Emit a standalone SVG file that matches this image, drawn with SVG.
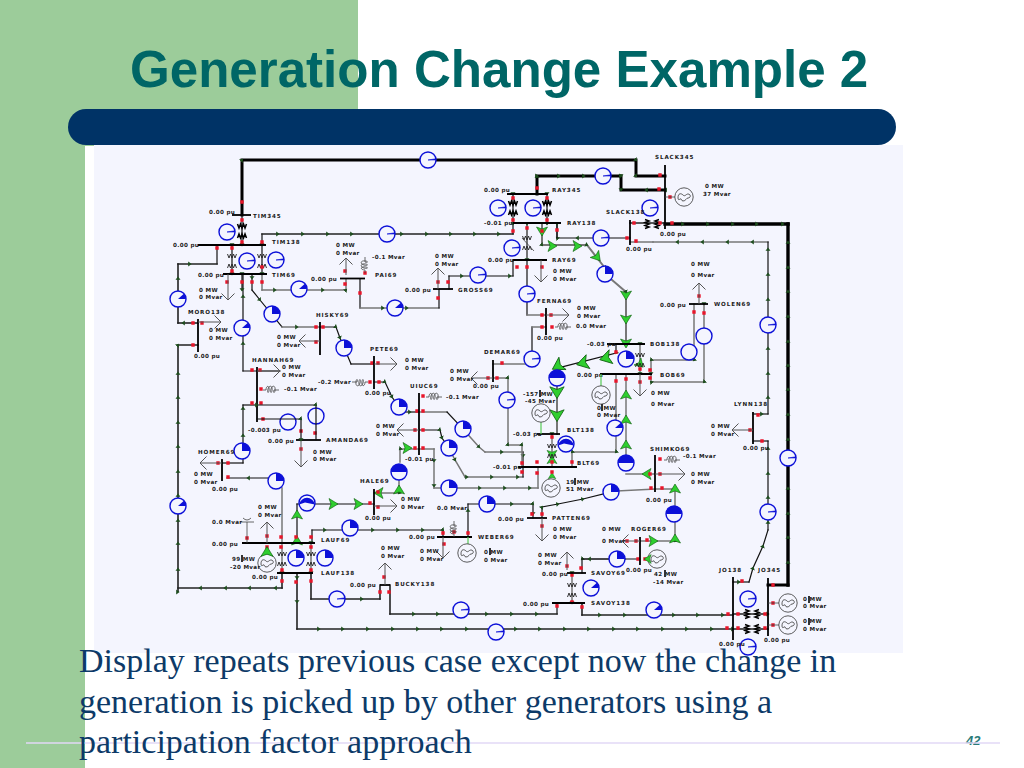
<svg xmlns="http://www.w3.org/2000/svg" xmlns:xlink="http://www.w3.org/1999/xlink" width="1024" height="768" viewBox="0 0 1024 768">
<style>
.t{font:bold 5.6px "DejaVu Sans",sans-serif;fill:#1a1a1a;letter-spacing:.35px}
.n{font:bold 5.6px "DejaVu Sans",sans-serif;fill:#1a1a1a;letter-spacing:.9px}
.k{fill:none;stroke:#111;stroke-width:1.2;stroke-linecap:square;marker-mid:url(#m)}
.g{fill:none;stroke:#777;stroke-width:1.5;stroke-linecap:square;marker-mid:url(#m)}
.b{fill:none;stroke:#000;stroke-width:3;stroke-linecap:square;marker-mid:url(#m)}
.h{fill:none;stroke:#222;stroke-width:1.6;stroke-linecap:square;marker-mid:url(#m)}
.bar{fill:none;stroke:#000;stroke-width:1.8}
.ld{fill:none;stroke:#555;stroke-width:1;marker-end:url(#o)}
.s{fill:none;stroke:#444;stroke-width:.8}
.red{fill:none;stroke:#e8152a;stroke-width:3.4;stroke-linecap:square}
.gl{fill:none;stroke:#5c5;stroke-width:1.2}
.mk{fill:#333}
</style>
<defs>
<marker id="m" markerUnits="userSpaceOnUse" markerWidth="7" markerHeight="7" refX="2" refY="3.5" orient="auto"><path d="M0.2 1L3.6 3.5L0.2 6Z" fill="#1d4d1d"/></marker>
<marker id="o" markerUnits="userSpaceOnUse" markerWidth="12" markerHeight="14" refX="10" refY="7" orient="auto"><path d="M3.5 0.5L10 7L3.5 13.5" fill="none" stroke="#555"/></marker>
<g id="c"><circle r="8" fill="#f4f5fe" stroke="#0c10d8" stroke-width="1.4"/></g>
<g id="g0"><use xlink:href="#c"/></g>
<g id="g1"><use xlink:href="#c"/><path d="M0 0L7.8 0L7.7 -1.2Z" fill="#0c10d8" stroke="#0c10d8" stroke-width=".6"/></g>
<g id="g2"><use xlink:href="#c"/><path d="M0 0L7.9 0A7.9 7.9 0 0 0 5.9 -5.2Z" fill="#0c10d8"/></g>
<g id="g3"><use xlink:href="#c"/><path d="M0 0L7.9 0A7.9 7.9 0 0 0 0 -7.9Z" fill="#0c10d8"/></g>
<g id="g4"><use xlink:href="#c"/><path d="M7.9 0A7.9 7.9 0 0 0 -7.9 0Z" fill="#0c10d8"/></g>
<g id="g5"><use xlink:href="#c"/><path d="M7.8 1.5A7.9 7.9 0 0 0 -7.8 1.5L-2 -.5Z" fill="#0c10d8"/></g>
<path id="x" d="M-4.5 -7L-3 -3L-1.5 -7L0 -3L1.5 -7L3 -3L4.5 -7M-4.5 7L-3 3L-1.5 7L0 3L1.5 7L3 3L4.5 7" fill="none" stroke="#222" stroke-width=".9"/>
<path id="xb" d="M-4.5 -7L-3 -3L-1.5 -7L0 -3L1.5 -7L3 -3L4.5 -7M-4.5 7L-3 3L-1.5 7L0 3L1.5 7L3 3L4.5 7" fill="none" stroke="#000" stroke-width="1.5"/>
<path id="coil" d="M0 0H3C3 -5 7 -5 6 1C5 4 4 2 5 -1C6 -5 10 -5 9 1C8 4 7 2 8 -1C9 -5 13 -5 12 1C11 4 10 2 11 0H16" fill="none" stroke="#444" stroke-width=".8"/>
<g id="gen"><circle r="9.2" fill="#f4f5fe" stroke="#333" stroke-width=".8"/><path d="M-6 1C-6 -4 -3 -4 -1 -2C1 0 2 -3 4 -3C7 -3 7 1 4 1C2 1 2 4 -1 4C-3 4 -2 1 -4 2C-5 3 -6 3 -6 1Z" fill="none" stroke="#333" stroke-width=".8"/></g>
<path id="ga" d="M-4 -5.5L5 0L-4 5.500L-2 0Z" fill="#2fce2f" stroke="#0a5a0a" stroke-width=".6"/>
</defs>

<g id="slide">
<rect x="0" y="0" width="358" height="146" fill="#9ccc9a"/>
<rect x="0" y="146" width="85" height="622" fill="#9ccc9a"/>
<path d="M85 160Q85 146 95 146H903V653H85Z" fill="#fff"/>
<rect x="94" y="145" width="809" height="508" fill="#f4f5fe"/>
<rect x="68" y="109" width="828" height="36" rx="18" fill="#003366"/>
<text x="130" y="87" style="font:bold 51.1px 'Liberation Sans',sans-serif;fill:#006666">Generation Change Example 2</text>
<text x="966" y="745" style="font:italic bold 13px 'Liberation Sans',sans-serif;fill:#2a7a78">42</text>
<path d="M26 743H1000" stroke="#e2d8f6" stroke-width="1.6"/>
<g style="font:34px 'Liberation Serif',serif;fill:#0d3a68">
<text x="79" y="672">Display repeats previous case except now the change in</text>
<text x="79" y="713">generation is picked up by other generators using a</text>
<text x="79" y="753">participation factor approach</text>
</g>
</g>

<g id="connectors">
<path class="b" d="M242 215V160H636V176H665"/>
<path class="b" d="M537 194V176M537 176H559H584H621M621 176V190M665 190H646H621"/>
<path class="b" style="stroke-width:3.4" d="M665 224H683H708H733H757H783H788"/>
<path class="b" style="stroke-width:3.4" d="M788 585V562V537V513V488V439V414V389V365V341V316V291V267V242V224"/>
<path class="b" d="M768 585H788"/>
<path class="g" d="M630 242H653"/><path class="g" d="M768 242H752H727H702H677H653"/>
<path class="k" d="M768 414V397V373V348V299V274V249V242"/>
<path class="k" d="M753 414H762H768"/>
<path class="k" d="M753 441H768"/><path class="k" d="M768 530V522V497V473V448V441"/>
<path class="k" d="M749 582L753 568L763 546L768 530"/><path class="k" d="M733 582H739H749"/>
<path class="k" d="M262 245V234"/>
<path class="h" d="M262 234H278H303H328H352H402H427H451H475H499H513"/><path class="k" d="M513 234V224"/>
<path class="g" d="M262 274V290"/><path class="g" d="M262 290H275H323H346V279"/>
<path class="k" d="M360 279V308"/><path class="g" d="M360 308H383H407H439"/><path class="k" d="M439 308V289"/>
<path class="k" d="M449 289V276"/><path class="k" d="M449 276H462H510H513"/><path class="k" d="M513 276V260"/>
<path class="k" d="M217 245V264"/><path class="h" d="M178 264H190H217"/>
<path class="h" d="M178 323V278V264"/><path class="h" d="M198 323H183H178"/>
<path class="h" d="M178 588V592V569V543V520V495V471V446V422V397V373V345H198"/>
<path class="h" d="M282 573V588"/><path class="h" d="M282 588H275H249H225H200H178"/>
<path class="k" d="M243 371V343V296V274"/><path class="k" d="M243 371H280"/>
<path class="k" d="M243 463V435V408V405"/><path class="k" d="M243 405H257"/><path class="k" d="M222 463H243"/>
<path class="k" d="M252 274V278V290"/><path class="k" d="M252 290L260 300L282 327"/>
<path class="g" d="M282 327H297H320"/><path class="k" d="M320 327H336L340 338L351 364"/>
<path class="k" d="M351 364H374"/>
<path class="k" d="M374 382H385L392 397L399 407"/>
<path class="k" d="M399 412H410H419"/>
<path class="g" d="M419 412H447"/><path class="k" d="M447 412L463 429"/>
<path class="g" d="M463 429L479 447L485 452"/><path class="g" d="M485 452H502H523"/><path class="k" d="M523 452V456V467"/>
<path class="k" d="M419 430H440L442 438L449 448"/>
<path class="g" d="M449 448L455 460L465 477"/><path class="g" d="M465 477H467H492H518H523"/><path class="k" d="M523 477V467"/>
<path class="g" d="M419 449H434"/><path class="g" d="M434 449V461V486V488"/><path class="g" d="M434 488H441"/>
<path class="g" d="M457 488H480H505H530H538"/><path class="g" d="M538 488V467"/>
<path class="g" d="M419 449H400V462"/><path class="g" d="M399 480V493H374"/>
<path class="g" d="M282 543V488"/>
<path class="k" d="M282 481H276"/><path class="k" d="M268 478H248H227"/>
<path class="k" d="M297 543V515V504"/><path class="k" d="M297 504H333H358H374"/>
<path class="k" d="M312 543V530"/><path class="k" d="M312 530H325H373H398H423H443V537"/>
<path class="k" d="M468 537V510V504"/><path class="k" d="M468 504H512H533V514V518"/>
<path class="k" d="M542 518V507L558 504L583 499L611 492"/>
<path class="g" d="M617 491L655 489"/>
<path class="g" d="M655 489H675"/><path class="g" d="M675 489V541H640"/>
<path class="g" d="M626 474H655"/><path class="g" d="M626 463V374"/>
<path class="g" d="M616 374V452H572V467"/>
<path class="k" d="M640 559H582V573"/><path class="k" d="M625 559H589H582"/>
<path class="h" d="M582 603V615"/><path class="h" d="M582 615H600H625H674H698H723H733"/>
<path class="h" d="M297 573V578V602V629"/><path class="h" d="M297 629H319H343H368H393H418H442H467H516H540H565H589H614H638H663H687H712H733"/>
<path class="k" d="M557 603V614"/><path class="h" d="M390 614H414H438H487H512H537H557"/><path class="h" d="M390 585V614"/>
<path class="h" d="M380 585V599"/><path class="h" d="M311 573V599"/><path class="h" d="M311 599H362H380"/>
<path class="k" d="M630 238H577H557V224"/>
<path class="k" d="M527 224V260"/><path class="k" d="M527 260V315"/><path class="g" d="M527 315H546"/>
<path class="k" d="M532 327V360"/><path class="g" d="M532 327H546"/>
<path class="g" d="M493 364H532"/>
<path class="g" d="M493 378H508V445H522V467"/>
<path class="k" d="M242 215V245M232 245V274M262 245V274M242 274V290M513 194V224M547 194V224M557 224V238"/>
<path class="g" d="M282 543V573M311 543V573M572 573V603M527 224V260M640 344V374M552 434V467"/>
<path class="g" style="stroke-width:2" d="M542 224V245H587L605 268M605 274L626 292V344"/>
<path class="k" d="M616 344V353L558 368"/>
<path class="g" style="stroke-width:2" d="M557 378V434"/>
<path class="g" d="M694 304V360H651V374M704 304V382H651V374"/>
<path class="h" d="M630 223H665"/>
<path class="h" d="M733 614H768M733 629H768"/>
<use xlink:href="#ga" transform="translate(542 231) rotate(90)"/>
<use xlink:href="#ga" transform="translate(552 246)"/>
<use xlink:href="#ga" transform="translate(577 246)"/>
<use xlink:href="#ga" transform="translate(597 257) rotate(50)"/>
<use xlink:href="#ga" transform="translate(626 295) rotate(90)"/>
<use xlink:href="#ga" transform="translate(626 319) rotate(90)"/>
<use xlink:href="#ga" transform="translate(626 343) rotate(90)"/>
<use xlink:href="#ga" transform="translate(606 358) rotate(165) scale(1.3)"/>
<use xlink:href="#ga" transform="translate(583 363) rotate(165) scale(1.3)"/>
<use xlink:href="#ga" transform="translate(558 366) rotate(150) scale(1.3)"/>
<use xlink:href="#ga" transform="translate(557 392) rotate(90) scale(1.3)"/>
<use xlink:href="#ga" transform="translate(557 415) rotate(90) scale(1.3)"/>
<use xlink:href="#ga" transform="translate(626 445) rotate(-90)"/>
<use xlink:href="#ga" transform="translate(626 420) rotate(-90)"/>
<use xlink:href="#ga" transform="translate(626 395) rotate(-90)"/>
<use xlink:href="#ga" transform="translate(647 474) rotate(180)"/>
<use xlink:href="#ga" transform="translate(407 448)"/>
<use xlink:href="#ga" transform="translate(399 490) rotate(-90)"/>
<use xlink:href="#ga" transform="translate(379 493) rotate(180)"/>
<use xlink:href="#ga" transform="translate(333 504)"/>
<use xlink:href="#ga" transform="translate(358 504)"/>
<use xlink:href="#ga" transform="translate(297 515) rotate(-90)"/>
<use xlink:href="#ga" transform="translate(297 541) rotate(-90)"/>
<use xlink:href="#ga" transform="translate(653 541)"/>
<use xlink:href="#ga" transform="translate(675 539) rotate(-90)"/>
<use xlink:href="#ga" transform="translate(675 489) rotate(-90)"/>
<use xlink:href="#ga" transform="translate(552 460) rotate(-90) scale(.9)"/>
<use xlink:href="#ga" transform="translate(552 454) rotate(90) scale(.9)"/>
<use xlink:href="#ga" transform="translate(552 476) rotate(-90) scale(.7)"/>
<use xlink:href="#ga" transform="translate(640 364) rotate(45) scale(.9)"/>
<use xlink:href="#x" transform="translate(232 261)"/>
<use xlink:href="#x" transform="translate(262 261)"/>
<use xlink:href="#xb" transform="translate(242 231)"/>
<use xlink:href="#xb" transform="translate(513 208)"/>
<use xlink:href="#xb" transform="translate(547 208)"/>
<use xlink:href="#x" transform="translate(527 243)"/>
<path class="s" d="M522 238L534 251"/>
<use xlink:href="#x" transform="translate(282 559)"/>
<use xlink:href="#x" transform="translate(311 559)"/>
<use xlink:href="#x" transform="translate(572 590)"/>
<use xlink:href="#x" transform="translate(640 360)"/>
<use xlink:href="#x" transform="translate(552 451)"/>
<use xlink:href="#xb" transform="translate(652 224) rotate(90)"/>
<use xlink:href="#xb" transform="translate(752 614) rotate(90)"/>
<use xlink:href="#xb" transform="translate(752 629) rotate(90)"/>
<path class="red" d="M242 202h0M242 220h0M242 242h0M262 242h0M232 248h0M232 271h0M217 248h0M227 282h0M242 282h0M252 282h0M262 282h0M262 267h0M345 271h0M345 284h0M365 273h0M360 293h0M193 323h0M202 323h0M193 345h0M316 327h0M323 327h0M316 342h0M372 363h0M378 363h0M370 382h0M379 382h0M252 370h0M260 370h0M261 389h0M252 403h0M261 403h0M263 419h0M301 431h0M315 433h0M301 449h0M218 463h0M228 463h0M228 477h0M417 411h0M423 411h0M415 430h0M423 430h0M415 448h0M423 448h0M423 396h0M378 492h0M378 507h0M370 503h0M281 537h0M281 547h0M296 537h0M311 537h0M311 547h0M267 536h0M267 547h0M247 538h0M282 570h0M282 581h0M296 582h0M311 570h0M311 581h0M380 592h0M389 592h0M384 577h0M443 533h0M444 544h0M454 532h0M468 533h0M532 514h0M542 514h0M542 526h0M567 566h0M572 575h0M581 568h0M572 602h0M557 606h0M582 607h0M627 541h0M636 541h0M647 540h0M638 559h0M645 559h0M513 198h0M547 198h0M537 188h0M513 220h0M547 220h0M527 228h0M542 231h0M557 230h0M513 231h0M527 267h0M517 267h0M542 267h0M660 175h0M659 189h0M670 197h0M634 223h0M660 223h0M672 223h0M627 238h0M636 241h0M438 282h0M438 298h0M448 282h0M542 327h0M552 327h0M542 315h0M551 315h0M694 312h0M704 313h0M699 296h0M502 363h0M488 378h0M497 378h0M616 352h0M616 381h0M626 379h0M640 369h0M640 382h0M650 370h0M650 378h0M552 437h0M552 462h0M552 472h0M537 462h0M537 473h0M522 463h0M522 472h0M572 462h0M660 459h0M660 474h0M651 488h0M662 488h0M650 474h0M758 415h0M750 430h0M762 441h0M742 581h0M773 585h0M773 603h0M773 625h0M728 614h0M738 614h0M727 628h0M738 628h0M765 614h0M765 628h0"/>
</g>

<g id="gauges">
<use xlink:href="#g1" x="428" y="160"/><use xlink:href="#g1" x="227" y="232"/><use xlink:href="#g1" x="387" y="234"/>
<use xlink:href="#g1" x="247" y="261"/><use xlink:href="#g1" x="276" y="260"/><use xlink:href="#g2" x="299" y="289"/>
<use xlink:href="#g2" x="178" y="299"/><use xlink:href="#g2" x="242" y="328"/><use xlink:href="#g3" x="272" y="314"/>
<use xlink:href="#g3" x="344" y="348"/><use xlink:href="#g2" x="395" y="308"/><use xlink:href="#g1" x="478" y="275"/>
<use xlink:href="#g1" x="603" y="176"/><use xlink:href="#g1" x="498" y="208"/><use xlink:href="#g1" x="533" y="208"/>
<use xlink:href="#g1" x="650" y="208"/><use xlink:href="#g1" x="601" y="238"/><use xlink:href="#g1" x="512" y="248"/>
<use xlink:href="#g1" x="527" y="294"/><use xlink:href="#g3" x="605" y="274"/><use xlink:href="#g1" x="532" y="359"/>
<use xlink:href="#g3" x="626" y="359"/><use xlink:href="#g4" x="557" y="378"/><use xlink:href="#g0" x="704" y="336"/>
<use xlink:href="#g0" x="689" y="352"/><use xlink:href="#g1" x="768" y="325"/><use xlink:href="#g1" x="788" y="458"/>
<use xlink:href="#g1" x="768" y="512"/><use xlink:href="#g1" x="507" y="400"/><use xlink:href="#g2" x="615" y="428"/>
<use xlink:href="#g5" x="566" y="444"/><use xlink:href="#g4" x="626" y="463"/><use xlink:href="#g3" x="463" y="429"/>
<use xlink:href="#g3" x="449" y="448"/><use xlink:href="#g3" x="449" y="488"/><use xlink:href="#g3" x="399" y="407"/>
<use xlink:href="#g4" x="399" y="472"/><use xlink:href="#g0" x="316" y="416"/><use xlink:href="#g0" x="288" y="422"/>
<use xlink:href="#g3" x="242" y="451"/><use xlink:href="#g3" x="276" y="481"/><use xlink:href="#g2" x="178" y="506"/>
<use xlink:href="#g5" x="307" y="503"/><use xlink:href="#g3" x="350" y="528"/><use xlink:href="#g3" x="296" y="558"/>
<use xlink:href="#g3" x="325" y="558"/><use xlink:href="#g3" x="487" y="504"/><use xlink:href="#g3" x="611" y="492"/>
<use xlink:href="#g4" x="674" y="514"/><use xlink:href="#g3" x="617" y="559"/><use xlink:href="#g2" x="591" y="588"/>
<use xlink:href="#g1" x="337" y="599"/><use xlink:href="#g1" x="461" y="610"/><use xlink:href="#g2" x="654" y="610"/>
<use xlink:href="#g1" x="496" y="632"/><use xlink:href="#g1" x="748" y="599"/><use xlink:href="#g1" x="748" y="647"/>
</g>

<g id="n-SLACK345"><path class="bar" d="M665 165V229"/><path class="s" d="M665 197H675"/><use xlink:href="#gen" x="684" y="197"/><text class="n" x="655" y="159">SLACK345</text><text class="t" x="705" y="188">0 MW</text><text class="t" x="703" y="196">37 Mvar</text><text class="t" x="660" y="236">0.00 pu</text></g>
<g id="n-TIM345"><path class="bar" d="M232 215H251"/><text class="n" x="253" y="218">TIM345</text><text class="t" x="209" y="214">0.00 pu</text></g>
<g id="n-TIM138"><path class="bar" d="M198 245H266"/><text class="n" x="272" y="244">TIM138</text><text class="t" x="173" y="247">0.00 pu</text></g>
<g id="n-TIM69"><path class="bar" d="M223 274H267"/><text class="n" x="272" y="277">TIM69</text><text class="t" x="198" y="277">0.00 pu</text><path class="ld" d="M228 274V300"/><text class="t" x="199" y="292">0 MW</text><text class="t" x="199" y="299">0 Mvar</text></g>
<g id="n-MORO138"><path class="bar" d="M198 319V352"/><text class="n" x="188" y="314">MORO138</text><text class="t" x="194" y="358">0.00 pu</text><path class="ld" d="M198 322H221"/><text class="t" x="209" y="332">0 MW</text><text class="t" x="209" y="340">0 Mvar</text></g>
<g id="n-HISKY69"><path class="bar" d="M320 322V355"/><text class="n" x="316" y="317">HISKY69</text><path class="ld" d="M320 341H299"/><text class="t" x="277" y="339">0 MW</text><text class="t" x="277" y="347">0 Mvar</text></g>
<g id="n-PAI69"><path class="bar" d="M340 278.500H365"/><text class="n" x="375" y="277">PAI69</text><text class="t" x="311" y="281">0.00 pu</text><path class="ld" d="M346 275V258"/><text class="t" x="336" y="247">0 MW</text><text class="t" x="336" y="255">0 Mvar</text><use xlink:href="#coil" transform="translate(365 273) rotate(-90)"/><text class="t" x="372" y="259">-0.1 Mvar</text></g>
<g id="n-GROSS69"><path class="bar" d="M433 289H453"/><text class="n" x="458" y="292">GROSS69</text><text class="t" x="405" y="292">0.00 pu</text><path class="ld" d="M438 289V268"/><text class="t" x="435" y="258">0 MW</text><text class="t" x="435" y="266">0 Mvar</text></g>
<g id="n-RAY345"><path class="bar" d="M507 194H548"/><text class="n" x="552" y="192">RAY345</text><text class="t" x="484" y="192">0.00 pu</text></g>
<g id="n-RAY138"><path class="bar" d="M513 223H561"/><text class="n" x="567" y="225">RAY138</text><text class="t" x="484" y="225">-0.01 pu</text></g>
<g id="n-RAY69"><path class="bar" d="M513 260H547"/><text class="n" x="552" y="262">RAY69</text><text class="t" x="488" y="262">0.00 pu</text><path class="ld" d="M541 260V282"/><text class="t" x="553" y="273">0 MW</text><text class="t" x="553" y="281">0 Mvar</text></g>
<g id="n-SLACK138"><path class="bar" d="M630 220V245"/><text class="n" x="606" y="214">SLACK138</text><text class="t" x="626" y="251">0.00 pu</text></g>
<g id="n-FERNA69"><path class="bar" d="M546 308V335"/><text class="n" x="537" y="303">FERNA69</text><text class="t" x="537" y="340">0.00 pu</text><path class="ld" d="M546 315H569"/><text class="t" x="577" y="310">0 MW</text><text class="t" x="577" y="318">0 Mvar</text><use xlink:href="#coil" transform="translate(555 327)"/><text class="t" x="576" y="328">0.0 Mvar</text></g>
<g id="n-WOLEN69"><path class="bar" d="M689 304H708"/><text class="n" x="714" y="306">WOLEN69</text><text class="t" x="660" y="307">0.00 pu</text><path class="ld" d="M699 304V283"/><text class="t" x="691" y="266">0 MW</text><text class="t" x="691" y="277">0 Mvar</text></g>
<g id="n-PETE69"><path class="bar" d="M374 356V389"/><text class="n" x="370" y="351">PETE69</text><text class="t" x="365" y="395">0.00 pu</text><path class="ld" d="M374 364H397"/><text class="t" x="405" y="362">0 MW</text><text class="t" x="405" y="370">0 Mvar</text><use xlink:href="#coil" transform="translate(368 382) rotate(180)"/><text class="t" x="318" y="384">-0.2 Mvar</text></g>
<g id="n-HANNAH69"><path class="bar" d="M257 367V422"/><text class="n" x="252" y="362">HANNAH69</text><path class="ld" d="M257 371H280"/><text class="t" x="282" y="369">0 MW</text><text class="t" x="282" y="377">0 Mvar</text><use xlink:href="#coil" transform="translate(263 390)"/><text class="t" x="284" y="391">-0.1 Mvar</text><text class="t" x="248" y="432">-0.003 pu</text></g>
<g id="n-AMANDA69"><path class="bar" d="M296 440H321"/><text class="n" x="326" y="442">AMANDA69</text><text class="t" x="268" y="443">0.00 pu</text><path class="ld" d="M301 440V467"/><text class="t" x="313" y="454">0 MW</text><text class="t" x="313" y="461">0 Mvar</text></g>
<path class="k" d="M257 419H301V440M257 405H316V440"/>
<g id="n-HOMER69"><path class="bar" d="M222 459V481"/><text class="n" x="198" y="454">HOMER69</text><text class="t" x="212" y="491">0.00 pu</text><path class="ld" d="M222 463H200"/><text class="t" x="194" y="476">0 MW</text><text class="t" x="194" y="484">0 Mvar</text></g>
<g id="n-UIUC69"><path class="bar" d="M419 393V455"/><text class="n" x="410" y="388">UIUC69</text><use xlink:href="#coil" transform="translate(426 397)"/><text class="t" x="446" y="399">-0.1 Mvar</text><path class="ld" d="M419 430H397"/><text class="t" x="376" y="428">0 MW</text><text class="t" x="376" y="436">0 Mvar</text><text class="t" x="405" y="461">-0.01 pu</text></g>
<g id="n-HALE69"><path class="bar" d="M374 489V515"/><text class="n" x="360" y="483">HALE69</text><path class="ld" d="M374 506H397"/><text class="t" x="401" y="501">0 MW</text><text class="t" x="401" y="509">0 Mvar</text><text class="t" x="365" y="520">0.00 pu</text></g>
<g id="n-DEMAR69"><path class="bar" d="M493 360V382"/><text class="n" x="484" y="354">DEMAR69</text><path class="ld" d="M493 378H471"/><text class="t" x="450" y="373">0 MW</text><text class="t" x="450" y="381">0 Mvar</text><text class="t" x="473" y="388">0.00 pu</text></g>
<g id="n-BOB138"><path class="bar" d="M607 344H645"/><text class="n" x="650" y="346">BOB138</text><text class="t" x="587" y="346">-0.03 pu</text></g>
<g id="n-BOB69"><path class="bar" d="M600 374H652"/><text class="n" x="660" y="377">BOB69</text><text class="t" x="577" y="377">0.00 pu</text><path class="ld" d="M640 374V396"/><text class="t" x="651" y="395">0 MW</text><text class="t" x="651" y="406">0 Mvar</text><path class="gl" d="M601 374V386"/><use xlink:href="#gen" x="601" y="395"/><text class="t" x="597" y="410">0 MW</text><text class="t" x="597" y="417">0 Mvar</text><rect class="mk" x="601" y="404" width="2" height="7"/></g>
<g id="n-BLT138"><path class="bar" d="M537 434H560"/><text class="n" x="567" y="432">BLT138</text><text class="t" x="513" y="436">-0.03 pu</text><path class="gl" d="M541 422V434"/><use xlink:href="#gen" x="541" y="413"/><text class="t" x="523" y="396">-157 MW</text><text class="t" x="525" y="403">-45 Mvar</text><rect class="mk" x="539" y="390" width="2" height="7"/></g>
<g id="n-BLT69"><path class="bar" d="M518 467H577"/><text class="n" x="577" y="465">BLT69</text><text class="t" x="493" y="469">-0.01 pu</text><use xlink:href="#gen" x="551" y="488"/><text class="t" x="566" y="484">19 MW</text><text class="t" x="566" y="491">51 Mvar</text><rect class="mk" x="574" y="478" width="2" height="7"/></g>
<g id="n-SHIMKO69"><path class="bar" d="M655 455V492"/><text class="n" x="650" y="451">SHIMKO69</text><text class="t" x="646" y="502">0.00 pu</text><path class="ld" d="M655 474H685"/><text class="t" x="691" y="476">0 MW</text><text class="t" x="691" y="484">0 Mvar</text><use xlink:href="#coil" transform="translate(664 460)"/><text class="t" x="683" y="458">-0.1 Mvar</text></g>
<g id="n-LYNN138"><path class="bar" d="M753 412V444"/><text class="n" x="734" y="406">LYNN138</text><text class="t" x="743" y="450">0.00 pu</text><path class="ld" d="M753 430H732"/><text class="t" x="711" y="428">0 MW</text><text class="t" x="711" y="436">0 Mvar</text></g>
<g id="n-LAUF69"><path class="bar" d="M242 543H315"/><text class="n" x="321" y="542">LAUF69</text><text class="t" x="212" y="546">0.00 pu</text><path class="s" d="M247 543V522M240 522H254M243 518Q247 522 251 518"/><text class="t" x="212" y="524">0.0 Mvar</text><path class="ld" d="M267 543V522"/><text class="t" x="258" y="509">0 MW</text><text class="t" x="258" y="517">0 Mvar</text><use xlink:href="#gen" x="267" y="563"/><use xlink:href="#ga" transform="translate(267 552) rotate(-90) scale(1.1)"/><text class="t" x="232" y="561">99 MW</text><text class="t" x="230" y="569">-20 Mvar</text><rect class="mk" x="241" y="555" width="2" height="7"/></g>
<g id="n-LAUF138"><path class="bar" d="M277 573H313"/><text class="n" x="321" y="575">LAUF138</text><text class="t" x="252" y="579">0.00 pu</text></g>
<g id="n-BUCKY138"><path class="bar" d="M380 585H390"/><text class="n" x="395" y="586">BUCKY138</text><text class="t" x="350" y="587">0.00 pu</text><path class="ld" d="M385 585V563"/><text class="t" x="381" y="550">0 MW</text><text class="t" x="381" y="558">0 Mvar</text></g>
<g id="n-WEBER69"><path class="bar" d="M437 537H472"/><text class="n" x="478" y="539">WEBER69</text><text class="t" x="409" y="539">0.00 pu</text><path class="ld" d="M443 537V558"/><text class="t" x="420" y="553">0 MW</text><text class="t" x="420" y="561">0 Mvar</text><use xlink:href="#coil" transform="translate(454 537) rotate(-90)"/><text class="t" x="437" y="510">0.0 Mvar</text><path class="gl" d="M468 537V544"/><use xlink:href="#gen" x="467" y="553"/><text class="t" x="484" y="554">0 MW</text><text class="t" x="484" y="562">0 Mvar</text><rect class="mk" x="489" y="548" width="2" height="7"/></g>
<g id="n-PATTEN69"><path class="bar" d="M527 518H547"/><text class="n" x="552" y="520">PATTEN69</text><text class="t" x="498" y="521">0.00 pu</text><path class="ld" d="M542 518V541"/><text class="t" x="553" y="531">0 MW</text><text class="t" x="553" y="539">0 Mvar</text></g>
<g id="n-ROGER69"><path class="bar" d="M640 537V565"/><text class="n" x="631" y="531">ROGER69</text><path class="ld" d="M640 541H622"/><text class="t" x="602" y="531">0 MW</text><text class="t" x="602" y="543">0 Mvar</text><text class="t" x="626" y="572">0.00 pu</text><use xlink:href="#gen" x="657" y="559"/><use xlink:href="#ga" transform="translate(648 559) rotate(180) scale(.8)"/><text class="t" x="654" y="576">42 MW</text><text class="t" x="653" y="584">-14 Mvar</text><rect class="mk" x="664" y="570" width="2" height="7"/></g>
<g id="n-SAVOY69"><path class="bar" d="M567 573H586"/><text class="n" x="591" y="575">SAVOY69</text><text class="t" x="542" y="576">0.00 pu</text><path class="ld" d="M567 570V552"/><text class="t" x="538" y="557">0 MW</text><text class="t" x="538" y="565">0 Mvar</text></g>
<g id="n-SAVOY138"><path class="bar" d="M552 603H585"/><text class="n" x="591" y="605">SAVOY138</text><text class="t" x="523" y="606">0.00 pu</text></g>
<g id="n-JO138"><path class="bar" d="M733 577V640"/><text class="n" x="719" y="572">JO138</text><text class="t" x="719" y="646">0.00 pu</text></g>
<g id="n-JO345"><path class="bar" d="M768 578V636"/><text class="n" x="758" y="572">JO345</text><text class="t" x="764" y="642">0.00 pu</text><path class="s" d="M768 603H779M768 625H779"/><use xlink:href="#gen" x="788" y="603"/><use xlink:href="#gen" x="788" y="625"/><text class="t" x="803" y="601">0 MW</text><text class="t" x="803" y="608">0 Mvar</text><text class="t" x="803" y="623">0 MW</text><text class="t" x="803" y="631">0 Mvar</text><rect class="mk" x="808" y="596" width="2" height="7"/><rect class="mk" x="808" y="618" width="2" height="7"/></g>
</svg>
